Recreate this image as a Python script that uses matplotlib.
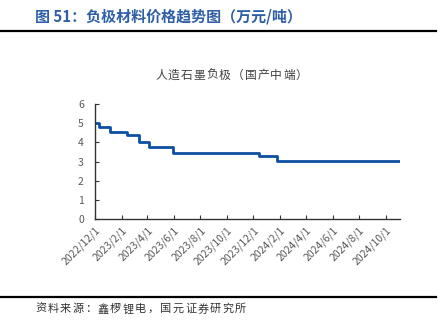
import matplotlib
matplotlib.use('Agg')
import matplotlib.pyplot as plt
from matplotlib.lines import Line2D
import numpy as np

plt.rcParams['font.family'] = ['Noto Sans CJK SC', 'DejaVu Sans']

# 人造石墨负极（国产中端）价格，万元/吨，阶梯变化
change_dates = ['2022-12-01', '2022-12-10', '2023-01-05', '2023-02-13', '2023-03-13',
                '2023-04-05', '2023-05-30', '2023-12-14', '2024-01-25', '2024-11-03']
prices = [5.0, 4.8, 4.55, 4.4, 4.0, 3.75, 3.45, 3.3, 3.05, 3.05]

tick_dates = ['2022-12-01', '2023-02-01', '2023-04-01', '2023-06-01', '2023-08-01', '2023-10-01',
              '2023-12-01', '2024-02-01', '2024-04-01', '2024-06-01', '2024-08-01', '2024-10-01']
tick_labels = ['2022/12/1', '2023/2/1', '2023/4/1', '2023/6/1', '2023/8/1', '2023/10/1',
               '2023/12/1', '2024/2/1', '2024/4/1', '2024/6/1', '2024/8/1', '2024/10/1']

x = np.array(change_dates, dtype='datetime64[D]')
ticks = np.array(tick_dates, dtype='datetime64[D]')

W, H = 447, 327
fig = plt.figure(figsize=(W / 100, H / 100), dpi=100)
ax = fig.add_axes([0.2125, 0.330, 0.682, 0.352])


def spaced(x0, y0, s, size, step, color):
    # 全角字符逐个排布，字距固定（像素）
    for i, ch in enumerate(s):
        fig.text((x0 + i * step) / W, 1 - y0 / H, ch, fontsize=size,
                 color=color, va='center', ha='left')


ax.step(x, prices, where='post', color='#0d4fa3', lw=2.0)

ax.set_xlim(x[0], x[-1])
ax.set_ylim(0, 6)
ax.set_yticks(range(7))
ax.set_xticks(ticks)
ax.set_xticklabels(tick_labels, rotation=45, ha='right', rotation_mode='anchor')

for s in ['top', 'right']:
    ax.spines[s].set_visible(False)
for s in ['left', 'bottom']:
    ax.spines[s].set_color('#333333')
    ax.spines[s].set_linewidth(1.0)
ax.tick_params(direction='in', length=3, width=0.8, color='#333333',
               labelsize=7.5, labelcolor='#595959')
ax.tick_params(axis='y', pad=8)
ax.tick_params(axis='x', pad=4)

spaced(155, 75, '人造石墨负极（国产中端）', 8.5, 12.8, '#404040')

fig.text(35 / W, 1 - 17 / H, '图 51：负极材料价格趋势图（万元/吨）', fontsize=10.8,
         fontweight='bold', color='#2f5fa7', va='center')
fig.add_artist(Line2D([0.0, 0.975], [0.905, 0.905], color='black', lw=1.6))
fig.add_artist(Line2D([0.0, 0.975], [0.091, 0.091], color='black', lw=1.6))
spaced(35, 309, '资料来源：鑫椤锂电，国元证券研究所', 8, 12.5, '#333333')

fig.savefig('out.png', dpi=100)
